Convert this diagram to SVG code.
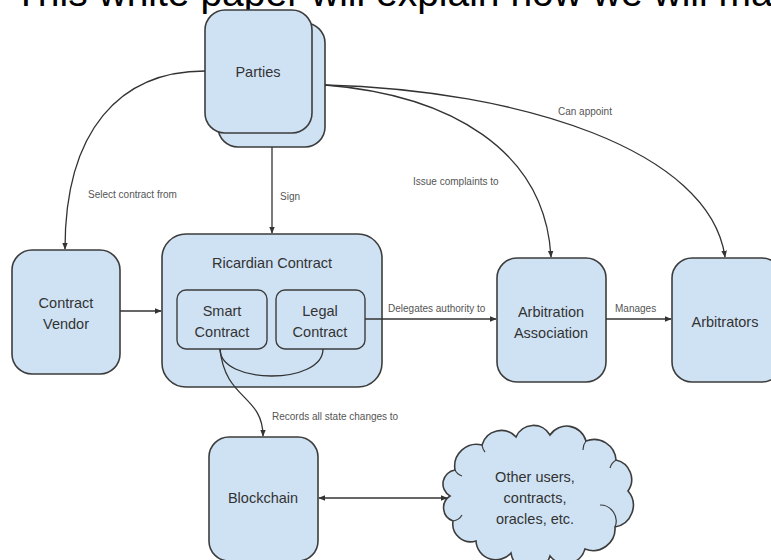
<svg xmlns="http://www.w3.org/2000/svg" width="771" height="560" viewBox="0 0 771 560">
<style>
.box{fill:#cfe2f3;stroke:#3d3d3d;stroke-width:1.6}
.in{fill:#cfe2f3;stroke:#3d3d3d;stroke-width:1.4}
.t{font-family:"Liberation Sans",Arial,sans-serif;font-size:14.5px;fill:#333;text-anchor:middle}
.l{font-family:"Liberation Sans",Arial,sans-serif;font-size:10px;fill:#555}
.c{fill:none;stroke:#333;stroke-width:1.3}
.title{font-family:"Liberation Sans",Arial,sans-serif;font-size:39px;fill:#000}
</style>
<defs>
<marker id="ah" viewBox="0 0 10 10" refX="9" refY="5" markerWidth="7" markerHeight="7" orient="auto" markerUnits="userSpaceOnUse">
<path d="M0,1 L10,5 L0,9 z" fill="#333"/>
</marker>
<marker id="as" viewBox="0 0 10 10" refX="1" refY="5" markerWidth="7" markerHeight="7" orient="auto" markerUnits="userSpaceOnUse">
<path d="M10,1 L0,5 L10,9 z" fill="#333"/>
</marker>
</defs>
<rect width="771" height="560" fill="#fff"/>
<text class="title" x="14" y="6">This white paper will explain how we will ma</text>

<g id="parties">
<rect class="box" x="218" y="23" width="107" height="124" rx="20"/>
<rect class="box" x="205" y="10" width="107" height="123" rx="20"/>
<text class="t" x="258" y="77">Parties</text>
</g>

<g id="contract-vendor">
<rect class="box" x="12" y="250" width="108" height="124" rx="20"/>
<text class="t" x="66" y="308">Contract</text>
<text class="t" x="66" y="329">Vendor</text>
</g>

<g id="ricardian-contract">
<rect class="box" x="162" y="234" width="220" height="153" rx="24"/>
<text class="t" x="272" y="268">Ricardian Contract</text>
</g>

<g id="smart-contract">
<rect class="in" x="177" y="290" width="90" height="59" rx="9"/>
<text class="t" x="222" y="316">Smart</text>
<text class="t" x="222" y="337">Contract</text>
</g>

<g id="legal-contract">
<rect class="in" x="276" y="290" width="89" height="59" rx="9"/>
<text class="t" x="320" y="316">Legal</text>
<text class="t" x="320" y="337">Contract</text>
</g>

<g id="arbitration-association">
<rect class="box" x="497" y="258" width="109" height="124" rx="20"/>
<text class="t" x="551" y="317">Arbitration</text>
<text class="t" x="551" y="338">Association</text>
</g>

<g id="arbitrators">
<rect class="box" x="672" y="258" width="110" height="124" rx="20"/>
<text class="t" x="725" y="327">Arbitrators</text>
</g>

<g id="blockchain">
<rect class="box" x="209" y="437" width="109" height="124" rx="20"/>
<text class="t" x="263" y="503">Blockchain</text>
</g>

<g id="other-users">
<path class="box" d="M455,470 A22,22 0 0 1 482,445 A20,20 0 0 1 516,437 A19,19 0 0 1 550,435 A20,20 0 0 1 586,441 A22,22 0 0 1 616,460 A20,20 0 0 1 628,491 A22,22 0 0 1 615,527 A22,22 0 0 1 585,549 A20,20 0 0 1 550,556 A20,20 0 0 1 511,553 A20,20 0 0 1 476,541 A18,18 0 0 1 453,521 A14,14 0 0 1 450,496 A14,14 0 0 1 455,470 z"/>
<path fill="none" stroke="#3d3d3d" stroke-width="1.2" d="M455,470 A12,12 0 0 0 462,476 M482,445 A14,14 0 0 0 485,452 M586,441 A14,14 0 0 0 583,450 M616,460 A14,14 0 0 0 610,468 M615,527 A16,16 0 0 0 600,505 M453,521 A12,12 0 0 0 462,515"/>
<text class="t" x="535" y="482">Other users,</text>
<text class="t" x="535" y="503">contracts,</text>
<text class="t" x="535" y="524">oracles, etc.</text>
</g>

<g id="connectors">
<path class="c" d="M205,71 C120,71 65,130 65,249" marker-end="url(#ah)"/>
<path class="c" d="M272,147 L272,233" marker-end="url(#ah)"/>
<path class="c" d="M325,85 C450,95 545,150 551,257" marker-end="url(#ah)"/>
<path class="c" d="M325,85 C520,90 710,150 725,257" marker-end="url(#ah)"/>
<path class="c" d="M120,311 L161,311" marker-end="url(#ah)"/>
<path class="c" d="M365,319 L496,319" marker-end="url(#ah)"/>
<path class="c" d="M606,319 L671,319" marker-end="url(#ah)"/>
<path class="c" d="M220,349 C220,385 323,385 323,349"/>
<path class="c" d="M220,349 C225,400 263,395 263,436" marker-end="url(#ah)"/>
<path class="c" d="M319,498 L447,498" marker-start="url(#as)" marker-end="url(#ah)"/>
<text class="l" x="88" y="198">Select contract from</text>
<text class="l" x="280" y="200">Sign</text>
<text class="l" x="413" y="185">Issue complaints to</text>
<text class="l" x="558" y="115">Can appoint</text>
<text class="l" x="388" y="312">Delegates authority to</text>
<text class="l" x="615" y="312">Manages</text>
<text class="l" x="272" y="420">Records all state changes to</text>
</g>
</svg>
